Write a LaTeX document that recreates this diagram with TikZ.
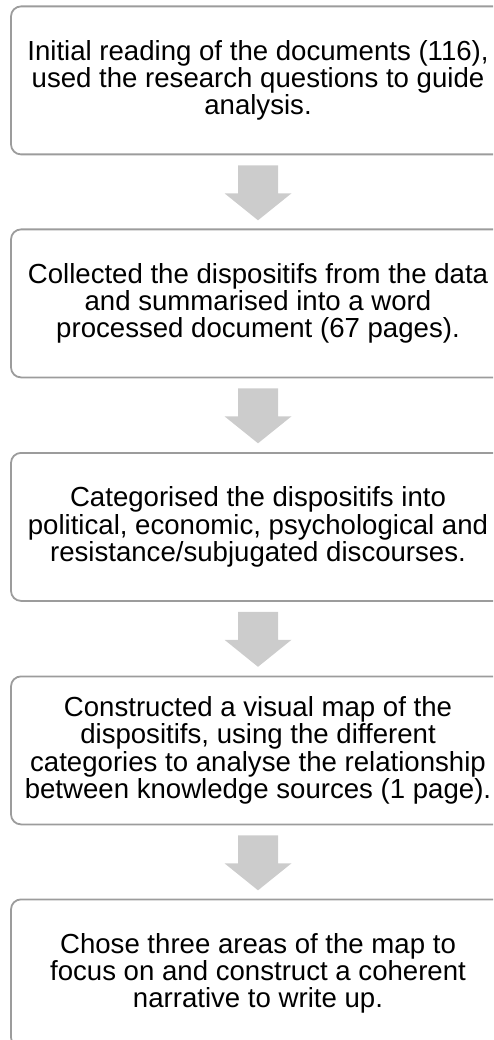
\documentclass[tikz,border=0pt]{standalone}
\usepackage{fontspec}
\setmainfont{Liberation Sans}
\usetikzlibrary{calc}
\definecolor{boxline}{HTML}{9C9C9C}
\definecolor{arrowfill}{HTML}{CCCCCC}
\tikzset{
  stepbox/.style={draw=boxline, line width=1.8pt, rounded corners=10pt,
    minimum width=494pt, minimum height=148pt, inner sep=0pt, align=center,
    font=\fontsize{27.6}{27.4}\selectfont, anchor=north},
  blockarrow/.style={fill=arrowfill, draw=none}
}
\newcommand{\downarrowshape}[1]{%
  \fill[blockarrow] ($(#1)+(-20,10)$) -- ($(#1)+(20,10)$) -- ($(#1)+(20,38)$)
    -- ($(#1)+(33.5,38)$) -- ($(#1)+(0,65)$) -- ($(#1)+(-33.5,38)$)
    -- ($(#1)+(-20,38)$) -- cycle;}
\begin{document}
\begin{tikzpicture}[x=1pt, y=-1pt]
\useasboundingbox (0,0) rectangle (493,1040);
\clip (0,0) rectangle (493,1040);
\node[stepbox] (b1) at (258,5.5) {Initial reading of the documents (116),\\used the research questions to guide\\analysis.};
\node[stepbox] (b2) at (258,228.5) {Collected the dispositifs from the data\\and summarised into a word\\processed document (67 pages).};
\node[stepbox] (b3) at (258,452) {Categorised the dispositifs into\\political, economic, psychological and\\resistance/subjugated discourses.};
\node[stepbox] (b4) at (258,675.5) {Constructed a visual map of the\\dispositifs, using the different\\categories to analyse the relationship\\between knowledge sources (1 page).};
\node[stepbox] (b5) at (258,898.5) {Chose three areas of the map to\\focus on and construct a coherent\\narrative to write up.};
\downarrowshape{b1.south}
\downarrowshape{b2.south}
\downarrowshape{b3.south}
\downarrowshape{b4.south}
\end{tikzpicture}
\end{document}
